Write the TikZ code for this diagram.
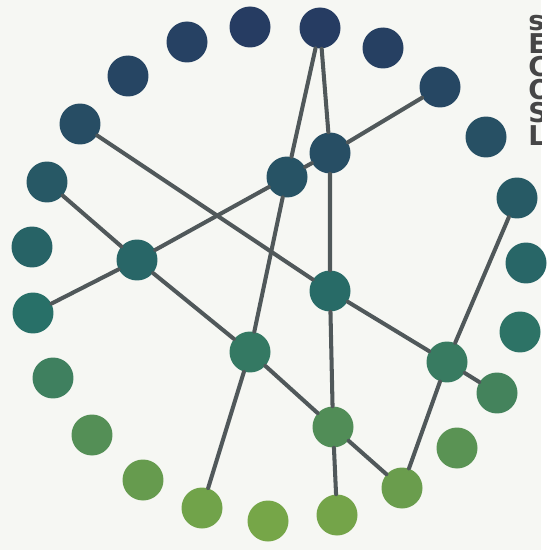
\documentclass[tikz,border=0pt]{standalone}
\usepackage{fontspec}
\newfontfamily\rimfont{DejaVu Sans}
\usepackage{tikz}
\usepackage{xcolor}
\definecolor{topc}{RGB}{38,60,98}
\definecolor{midc}{RGB}{40,112,104}
\definecolor{lowc}{RGB}{118,166,72}
\definecolor{wire}{RGB}{80,88,90}
\definecolor{paper}{RGB}{246,247,243}
\definecolor{ink}{RGB}{70,70,70}

\begin{document}
\begin{tikzpicture}[x=0.02cm,y=-0.02cm,line cap=round,
  dot/.style={circle,minimum size=0.82cm,inner sep=0pt},
  link/.style={wire,line width=2.3pt},
  rimtext/.style={inner sep=0pt,ink,align=left,font=\rimfont\bfseries\fontsize{15.5}{13.1}\selectfont}]
\fill[paper] (0,0) rectangle (541,550);
% outer ring
\node[dot,fill=topc!67!midc] (o1) at (80,124) {};
\node[dot,fill=topc!83!midc] (o2) at (128,76) {};
\node[dot,fill=topc!90!midc] (o3) at (187,42) {};
\node[dot,fill=topc] (o4) at (250,27) {};
\node[dot,fill=topc] (o5) at (320,28) {};
\node[dot,fill=topc!93!midc] (o6) at (383,48) {};
\node[dot,fill=topc!79!midc] (o7) at (440,87) {};
\node[dot,fill=topc!62!midc] (o8) at (486,137) {};
\node[dot,fill=topc!42!midc] (o9) at (517,198) {};
\node[dot,fill=topc!20!midc] (o10) at (526,263) {};
\node[dot,fill=lowc!6!midc] (o11) at (520,332) {};
\node[dot,fill=lowc!36!midc] (o12) at (497,393) {};
\node[dot,fill=lowc!64!midc] (o13) at (457,448) {};
\node[dot,fill=lowc!84!midc] (o14) at (402,488) {};
\node[dot,fill=lowc!97!midc] (o15) at (337,515) {};
\node[dot,fill=lowc] (o16) at (268,521) {};
\node[dot,fill=lowc!94!midc] (o17) at (202,508) {};
\node[dot,fill=lowc!80!midc] (o18) at (143,480) {};
\node[dot,fill=lowc!57!midc] (o19) at (92,435) {};
\node[dot,fill=lowc!29!midc] (o20) at (53,378) {};
\node[dot,fill=midc] (o21) at (33,313) {};
\node[dot,fill=topc!25!midc] (o22) at (32,247) {};
\node[dot,fill=topc!47!midc] (o23) at (47,182) {};
% hubs
\node[dot,fill=topc!20!midc] (n1) at (137,260) {};
\node[dot,fill=topc!55!midc] (n2) at (287,177) {};
\node[dot,fill=topc!65!midc] (n3) at (330,153) {};
\node[dot,fill=topc!10!midc] (n4) at (330,291) {};
\node[dot,fill=lowc!16!midc] (n5) at (250,352) {};
\node[dot,fill=lowc!21!midc] (n6) at (447,362) {};
\node[dot,fill=lowc!53!midc] (n7) at (333,427) {};
% links
\draw[link] (o1) -- (n4) -- (n6) -- (o12);
\draw[link] (o23) -- (n1) -- (n5) -- (n7) -- (o14);
\draw[link] (o21) -- (n1) -- (n2) -- (n3) -- (o7);
\draw[link] (o5) -- (n2) -- (n5) -- (o17);
\draw[link] (o5) -- (n3) -- (n4) -- (n7) -- (o15);
\draw[link] (o9) -- (n6) -- (o14);
% lettering cut by the right edge
\begin{scope}
\clip (0,0) rectangle (541,550);
\node[rimtext,anchor=north west] (rim) at (528,15) {s\\E\\C\\O\\S\\L};
\end{scope}
\end{tikzpicture}
\end{document}
